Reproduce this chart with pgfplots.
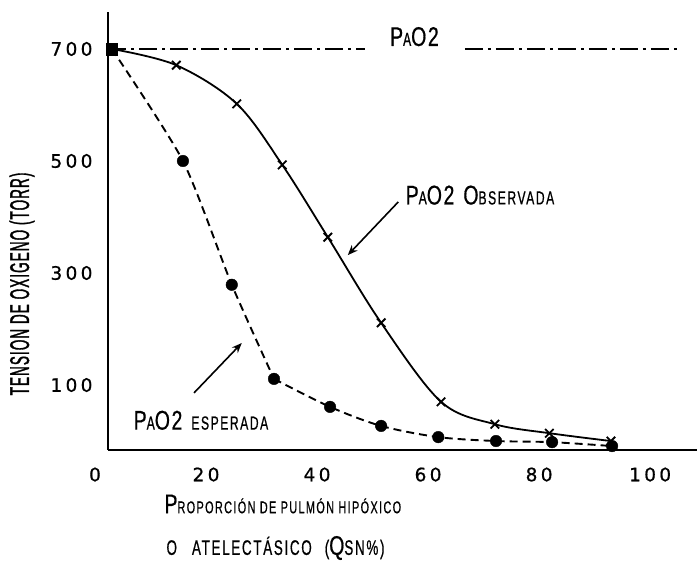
\documentclass[border=0pt]{standalone}
\usepackage{fontspec}
\setmainfont{DejaVu Sans}[LetterSpace=18, FakeBold=0.8]
\newfontfamily\lab{Liberation Sans}[FakeStretch=0.72, LetterSpace=6, FakeBold=0.6]
\newfontfamily\labs{Liberation Sans}[FakeStretch=0.64, LetterSpace=8, FakeBold=0.6]
\newfontfamily\laby{Liberation Sans}[FakeStretch=0.5, LetterSpace=4, FakeBold=1.2]
\usepackage{pgfplots}
\pgfplotsset{compat=1.18}
\usetikzlibrary{arrows.meta}
\newcommand\Bg[1]{{\lab\fontsize{27}{27}\selectfont #1}}
\newcommand\Sm[1]{{\labs\fontsize{19}{19}\selectfont #1}}
\newcommand\Sq[1]{{\labs\fontsize{17}{17}\selectfont #1}}
\newcommand\Sr[1]{{\labs\fontsize{21}{21}\selectfont #1}}
\begin{document}
\begin{tikzpicture}[x=1pt,y=1pt]
\path[use as bounding box] (0,0) rectangle (699,578);
\begin{axis}[
  at={(108pt,128pt)}, anchor=south west,
  scale only axis, width=589pt, height=438pt,
  xmin=0, xmax=106.1, ymin=-16, ymax=766,
  axis lines=left,
  axis line style={line width=2.5pt, -},
  xtick={0,20,...,100}, ytick={100,300,500,700},
  major tick length=0pt,
  /pgf/number format/assume math mode=true,
  /pgf/number format/1000 sep={},
  tick label style={font=\fontsize{18.5}{18.5}\selectfont},
  xticklabel style={xshift=-13pt, yshift=-14pt},
  yticklabel style={xshift=-12pt},
  clip=false,
]
% PaO2 inspirada (constante)
\addplot[line width=2.3pt, dash pattern=on 18pt off 5pt on 3pt off 5pt] coordinates {(0,700)(46.3,700)};
\addplot[line width=2.3pt, dash pattern=on 18pt off 5pt on 3pt off 5pt] coordinates {(64.3,700)(103,700)};
% PaO2 observada
\addplot[line width=1.8pt, smooth, tension=0.55] coordinates {
(0.7,700)(12.3,671)(23.2,602)(31.4,493)(39.6,364)(49.2,211)(60.0,70)(69.7,30)(79.5,14)(90.6,0)};
\addplot[only marks, mark=x, mark size=6pt, mark options={line width=1.8pt}] coordinates {
(12.3,671)(23.2,602)(31.4,493)(39.6,364)(49.2,211)(60.0,70)(69.7,30)(79.5,14)(90.6,0)};
% PaO2 esperada
\addplot[line width=1.9pt, dash pattern=on 8pt off 5pt, smooth, tension=0.4] coordinates {
(0.7,700)(13.5,500)(22.3,279)(29.9,111)};
\addplot[line width=1.9pt, dash pattern=on 8pt off 5pt, smooth, tension=0.5] coordinates {
(29.9,111)(40.0,61)(49.2,27)(59.5,7)(69.9,0)(80.0,-2)(90.8,-9)};
\addplot[only marks, mark=*, mark size=5.8pt] coordinates {
(13.5,500)(22.3,279)(29.9,111)(40.0,61)(49.2,27)(59.5,7)(69.9,0)(80.0,-2)(90.8,-9)};
\addplot[only marks, mark=square*, mark size=5.8pt] coordinates {(0.7,700)};
% annotations
\node at (axis cs:55.2,722) {\Bg{P}\Sm{A}\Bg{O2}};
\node[anchor=west] at (axis cs:53.0,439) {\Bg{P}\Sm{A}\Bg{O2}\hspace{9pt}\Bg{O}\Sm{BSERVADA}};
\draw[line width=1.6pt, -{Stealth[length=10pt,width=8pt]}] (axis cs:52.3,427) -- (axis cs:43.2,332);
\node[anchor=west] at (axis cs:4.0,37) {\Bg{P}\Sm{A}\Bg{O2}\hspace{9pt}\Sm{ESPERADA}};
\draw[line width=1.6pt, -{Stealth[length=10pt,width=8pt]}] (axis cs:15.5,86) -- (axis cs:24.1,175);
\end{axis}
\node[rotate=90] at (22,294) {\laby\fontsize{27}{27}\selectfont TENSION DE OXIGENO (TORR)};
\node[anchor=west] at (161,74) {\Bg{P}\Sq{ROPORCIÓN DE PULMÓN HIPÓXICO}};
\node[anchor=west] at (163,30) {\Sr{O}\hspace{15pt}\Sr{ATELECTÁSICO}\hspace{13pt}\Sr{(}\Bg{Q}\Sr{SN\%)}};
\end{tikzpicture}
\end{document}
